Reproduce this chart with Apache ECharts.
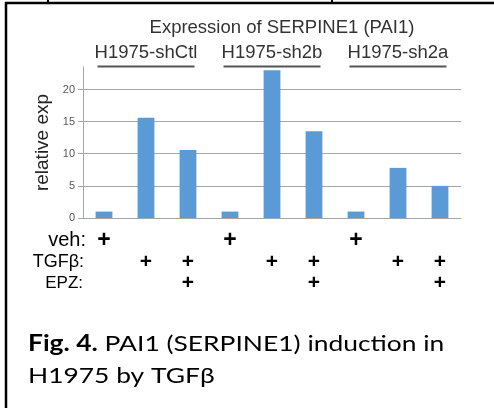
<!DOCTYPE html>
<html>
<head>
<meta charset="utf-8">
<script src="https://cdn.jsdelivr.net/npm/echarts@6/dist/echarts.min.js"></script>
<style>
  html, body { margin: 0; padding: 0; background: #fff; }
  #chart { width: 494px; height: 408px; }
</style>
</head>
<body>
<div id="chart"></div>
<script>
// 数据
const conditions = ['shCtl veh', 'shCtl TGFb', 'shCtl TGFb+EPZ', 'sh2b veh', 'sh2b TGFb', 'sh2b TGFb+EPZ', 'sh2a veh', 'sh2a TGFb', 'sh2a TGFb+EPZ']
const relExp = [1, 15.6, 10.6, 1, 23.0, 13.5, 1, 7.8, 5.0]
const groups = ['H1975-shCtl', 'H1975-sh2b', 'H1975-sh2a']
const vehRow = ['+', '', '', '+', '', '', '+', '', '']
const tgfRow = ['', '+', '+', '', '+', '+', '', '+', '+']
const epzRow = ['', '', '+', '', '', '+', '', '', '+']
const yTicks = [0, 5, 10, 15, 20]

const chart = echarts.init(document.getElementById('chart'), null, { renderer: 'canvas' })
const font = 'Liberation Sans'
const gray = '#a6a6a6'

// 下方 + 号行
function signAxis (data, margin, size) {
  return {
    type: 'category',
    data: data,
    position: 'bottom',
    gridIndex: 0,
    axisLine: { show: false },
    axisTick: { show: false },
    axisLabel: {
      interval: 0,
      margin: margin,
      color: '#000',
      fontFamily: font,
      fontWeight: 'bold',
      fontSize: size
    }
  }
}

const option = {
  animation: false,
  title: {
    text: 'Expression of SERPINE1 (PAI1)',
    left: 277,
    textAlign: 'center',
    top: 13,
    textStyle: { fontFamily: font, fontSize: 18.5, fontWeight: 'normal', color: '#333' }
  },
  grid: { left: 83, right: 33, top: 67, bottom: 190 },
  xAxis: [
    {
      type: 'category',
      data: conditions,
      axisLine: { lineStyle: { color: gray, width: 1 } },
      axisTick: { interval: 0, length: 4, lineStyle: { color: gray } },
      axisLabel: { show: false }
    },
    {
      type: 'category',
      data: groups,
      position: 'top',
      axisLine: { show: false },
      axisTick: { show: false },
      axisLabel: {
        interval: 0,
        margin: -4,
        formatter: v => '{t|' + v + '}\n{u|}',
        rich: {
          t: { fontFamily: font, fontSize: 18.5, color: '#333', lineHeight: 19 },
          u: { width: 97, height: 2, lineHeight: 9, backgroundColor: '#555' }
        }
      }
    },
    signAxis(vehRow, 11, 23),
    signAxis(tgfRow, 34, 21),
    signAxis(epzRow, 55, 21)
  ],
  yAxis: {
    type: 'value',
    min: 0,
    max: 23.5,
    interval: 5,
    name: 'relative exp',
    nameLocation: 'middle',
    nameGap: 27,
    nameTextStyle: { fontFamily: font, fontSize: 19, color: '#222' },
    axisLine: { show: true, lineStyle: { color: gray } },
    axisTick: { show: true, length: 5, customValues: yTicks, lineStyle: { color: gray } },
    axisLabel: { customValues: yTicks, margin: 8, fontFamily: font, fontSize: 11, color: '#595959' },
    splitLine: {
      show: true,
      lineStyle: { color: [gray, gray, gray, gray, gray, 'rgba(0,0,0,0)'] }
    }
  },
  series: [{
    type: 'bar',
    data: relExp,
    barWidth: '40%',
    itemStyle: { color: '#5b9bd5' }
  }],
  graphic: [
    { type: 'rect', shape: { x: 6, y: 3, width: 700, height: 700 }, style: { fill: 'none', stroke: '#000', lineWidth: 2.5 } },
    { type: 'line', shape: { x1: 48, y1: 0, x2: 48, y2: 3 }, style: { stroke: '#000', lineWidth: 2 } },
    { type: 'line', shape: { x1: 332, y1: 0, x2: 332, y2: 3 }, style: { stroke: '#000', lineWidth: 2 } },
    { type: 'text', x: 86, y: 240, style: { text: 'veh:', font: '20px "Liberation Sans"', fill: '#000', align: 'right', verticalAlign: 'middle' } },
    { type: 'text', x: 84, y: 262, style: { text: 'TGFβ:', font: '18px "Liberation Sans"', fill: '#000', align: 'right', verticalAlign: 'middle' } },
    { type: 'text', x: 83, y: 283, style: { text: 'EPZ:', font: '17px "Liberation Sans"', fill: '#000', align: 'right', verticalAlign: 'middle' } },
    {
      type: 'text', x: 28, y: 328, scaleX: 1.2,
      style: {
        text: '{b|Fig. 4.} PAI1 (SERPINE1) induction in\nH1975 by TGFβ',
        font: '22px Lato',
        fill: '#000',
        lineHeight: 32,
        rich: { b: { font: 'bold 22px Lato', fill: '#000' } }
      }
    }
  ]
}

chart.setOption(option)
</script>
</body>
</html>
